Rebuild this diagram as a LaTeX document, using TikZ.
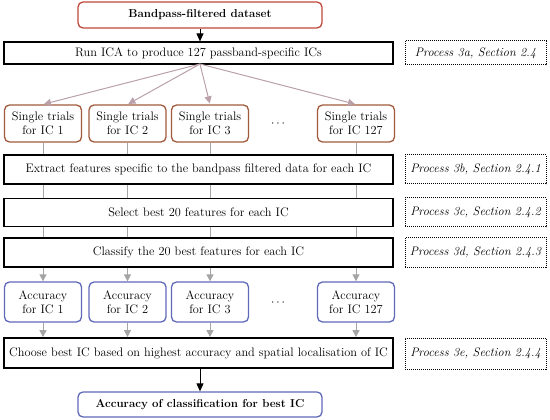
\documentclass[tikz,border=0pt]{standalone}
\usetikzlibrary{arrows.meta}
\definecolor{brownb}{RGB}{160,90,60}
\definecolor{redb}{RGB}{192,72,58}
\definecolor{blueb}{RGB}{95,105,185}
\definecolor{conn}{RGB}{165,165,165}
\definecolor{connp}{RGB}{185,160,170}
\begin{document}
\begin{tikzpicture}[x=1pt,y=-1pt,
  font=\fontsize{12.3}{14}\selectfont,
  procbox/.style={draw=black,line width=1.2pt,minimum width=389pt,inner sep=0pt},
  labbox/.style={draw=black,densely dotted,line width=1pt,minimum width=141pt,inner sep=0pt,font=\fontsize{12.3}{14}\selectfont\itshape},
  trialbox/.style={draw=brownb,line width=1.3pt,rounded corners=5pt,minimum width=77pt,minimum height=37pt,align=center,inner sep=0pt},
  accbox/.style={draw=blueb,line width=1.3pt,rounded corners=5pt,minimum width=77pt,minimum height=40pt,align=center,inner sep=0pt},
  endbox/.style={line width=1.3pt,rounded corners=5pt,minimum width=244pt,inner sep=0pt,font=\fontsize{11.5}{13}\selectfont\bfseries},
  garrow/.style={draw=conn,line width=1pt,-{Triangle[width=7pt,length=7pt]}},
  parrow/.style={draw=connp,line width=1pt,-{Triangle[width=7pt,length=7pt]},shorten >=1pt},
  gline/.style={draw=conn,line width=1pt},
  barrow/.style={draw=black,line width=1pt,-{Triangle[width=7pt,length=8pt]}}
]
\useasboundingbox (0,0) rectangle (550,420);

% top
\node[endbox,draw=redb,minimum height=26pt] (top) at (200,15) {Bandpass-filtered dataset};

% ICA
\node[procbox,minimum height=22pt] (ica) at (198.5,53) {Run ICA to produce 127 passband-specific ICs};
\node[labbox,minimum height=24pt] (la) at (475.5,53) {Process 3a, Section 2.4};

% single trials
\node[trialbox] (st1) at (43,123.5) {Single trials\\for IC 1};
\node[trialbox] (st2) at (127.5,123.5) {Single trials\\for IC 2};
\node[trialbox] (st3) at (210,123.5) {Single trials\\for IC 3};
\node[trialbox] (st4) at (356,123.5) {Single trials\\for IC 127};
\node (d1) at (278,124) {$\cdots$};

% extract / select / classify
\node[procbox,minimum height=29pt] (ext) at (198.5,169.5) {Extract features specific to the bandpass filtered data for each IC};
\node[labbox,minimum height=29pt] (lb) at (475.5,169.5) {Process 3b, Section 2.4.1};
\node[procbox,minimum height=28pt] (sel) at (198.5,212.5) {Select best 20 features for each IC};
\node[labbox,minimum height=29pt] (lc) at (475.5,212.5) {Process 3c, Section 2.4.2};
\node[procbox,minimum height=29pt] (cla) at (198.5,252.5) {Classify the 20 best features for each IC};
\node[labbox,minimum height=30pt] (ld) at (475.5,252.5) {Process 3d, Section 2.4.3};

% accuracy
\node[accbox] (a1) at (43,302) {Accuracy\\for IC 1};
\node[accbox] (a2) at (127.5,302) {Accuracy\\for IC 2};
\node[accbox] (a3) at (210,302) {Accuracy\\for IC 3};
\node[accbox] (a4) at (356,302) {Accuracy\\for IC 127};
\node (d2) at (278,303) {$\cdots$};

% choose
\node[procbox,line width=1.8pt,minimum height=30pt] (cho) at (198.5,353) {Choose best IC based on highest accuracy and spatial localisation of IC};
\node[labbox,minimum height=31pt] (le) at (475.5,353.5) {Process 3e, Section 2.4.4};

% final
\node[endbox,draw=blueb,minimum height=25pt] (fin) at (200,404.5) {Accuracy of classification for best IC};

% connectors
\draw[barrow] (top.south) -- (top.south |- ica.north);
\coordinate (icab) at (200,64);
\foreach \i in {1,2,3,4} {
  \draw[parrow] (icab) -- (st\i.north);
  \draw[gline] (st\i.south) -- (st\i.south |- ext.north);
  \draw[gline] (st\i.south |- ext.south) -- (st\i.south |- sel.north);
  \draw[gline] (st\i.south |- sel.south) -- (st\i.south |- cla.north);
  \draw[garrow] (st\i.south |- cla.south) -- (a\i.north);
  \draw[garrow] (a\i.south) -- (a\i.south |- cho.north);
}
\draw[barrow] (fin.north |- cho.south) -- (fin.north);
\end{tikzpicture}
\end{document}
